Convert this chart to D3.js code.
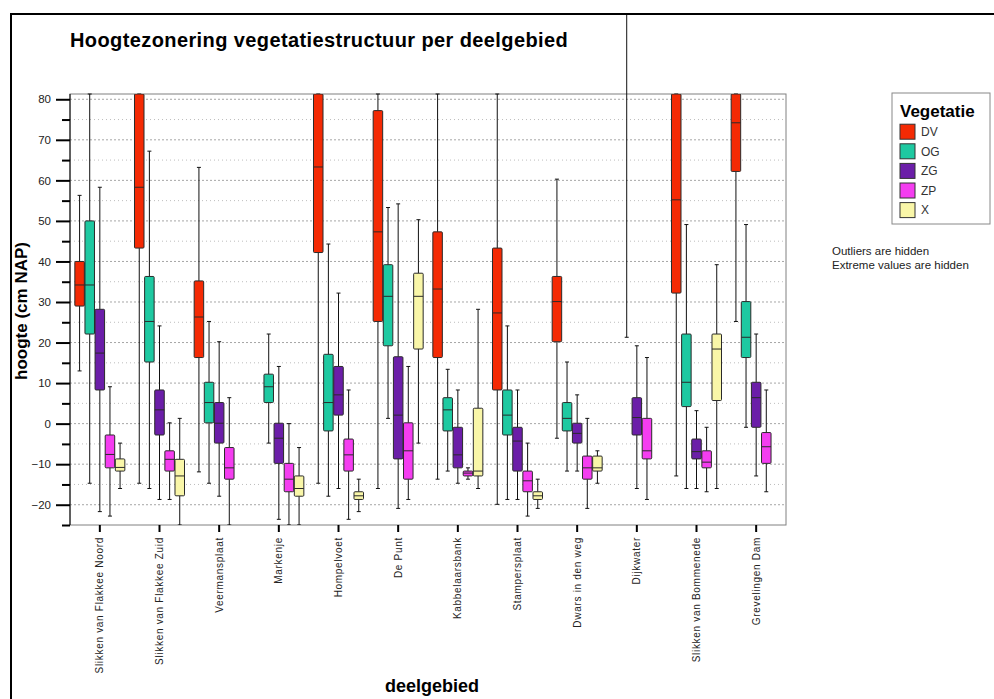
<!DOCTYPE html>
<html>
<head>
<meta charset="utf-8">
<script src="https://cdn.jsdelivr.net/npm/d3@7"></script>
<style>
  body { margin: 0; background: #fff; }
  svg { font-family: "Liberation Sans", Arial, sans-serif; }
  .axis path { display: none; }
  .axis line { stroke: #000; stroke-width: 2; }
  .axis text { fill: #222; }
</style>
</head>
<body>
<svg width="994" height="699"></svg>
<script>
// deelgebieden (x categories)
var areas = ["Slikken van Flakkee Noord", "Slikken van Flakkee Zuid", "Veermansplaat", "Markenje",
  "Hompelvoet", "De Punt", "Kabbelaarsbank", "Stampersplaat", "Dwars in den weg", "Dijkwater",
  "Slikken van Bommenede", "Grevelingen Dam"];

var types = ["DV", "OG", "ZG", "ZP", "X"];

// [min, q1, median, q3, max] per deelgebied, null = no data
var dvStats = [
  [13, 29, 34.2, 40, 56.3], [-14.7, 43.3, 58.3, 81.3, 81.3], [-11.9, 16.3, 26.3, 35.2, 63.2], null,
  [-14.7, 42.2, 63.3, 81.3, 81.3], [-16, 25.2, 47.3, 77.2, 81.3], [-13.7, 16.3, 33.2, 47.3, 81.3],
  [-19.9, 8.3, 27.3, 43.3, 81.3], [-3.6, 20.2, 30.1, 36.3, 60.3], null,
  [-12.9, 32.2, 55.2, 81.3, 81.3], [25.2, 62.2, 74.2, 81.3, 81.3]
];
var ogStats = [
  [-14.7, 22.1, 34.2, 50, 81.3], [-16, 15.2, 25.2, 36.3, 67.2], [-14.7, 0.2, 5.2, 10.2, 25.2],
  [-4.8, 5.2, 9.1, 12.2, 22.1], [-17.9, -1.8, 5.2, 17.1, 44.3], [1.3, 19.2, 31.4, 39.2, 53.3],
  [-11.7, -1.8, 3.4, 6.4, 13.4], [-18.7, -2.8, 2.1, 8.3, 24.1], [-11.7, -1.8, 1.3, 5.2, 15.2],
  [21.3, 101.5, 105, 110, 120], [-16, 4.2, 10.2, 22.1, 49.1], [-0.9, 16.3, 21.3, 30.1, 49.1]
];
var zgStats = [
  [-21.7, 8.3, 17.4, 28.2, 58.3], [-18.7, -2.8, 3.4, 8.3, 24.1], [-17.9, -4.8, 0.1, 5.2, 20.2],
  [-23.6, -9.8, -3.6, 0.1, 14.1], [-16, 2.1, 7.1, 14.1, 32.2], [-20.9, -8.7, 2.1, 16.5, 54.2],
  [-14.7, -10.9, -7.7, -0.9, 8.3], [-18.7, -11.7, -4.3, -0.9, 8.3], [-11.7, -4.8, -2.4, 0.1, 7.1],
  [-16, -2.8, 1.5, 6.4, 19.2], [-16, -8.7, -6.9, -3.8, 3.2], [-12.9, -0.9, 6.4, 10.2, 22.1]
];
var zpStats = [
  [-22.8, -10.9, -7.6, -2.8, 9.1], [-18.7, -11.7, -8.8, -6.7, 0.2], [-25, -13.7, -10.9, -5.9, 6.4],
  [-25, -16.8, -13.7, -9.8, 0], [-23.6, -11.7, -7.7, -3.8, 8.3], [-18.7, -13.7, -6.7, 0.2, 14.1],
  [-13.7, -12.9, -12.2, -11.7, -10.9], [-22.8, -16.8, -14.1, -11.7, -4.8], [-20.9, -13.7, -10.9, -8, 1.3],
  [-18.7, -8.7, -6.7, 1.3, 16.3], [-16.8, -10.9, -9.5, -6.7, -0.9], [-16.8, -9.8, -5.7, -2.2, 8.3]
];
var xStats = [
  [-16, -11.7, -10.8, -8.7, -4.8], [-25, -17.8, -12.9, -8.8, 1.3], null,
  [-25, -17.9, -16, -12.9, -5.9], [-21.7, -18.7, -17.8, -16.8, -13.7], [-4.8, 18.4, 31.4, 37.1, 50.3],
  [-16, -12.9, -11.7, 3.8, 28.2], [-20.9, -18.7, -17.8, -16.8, -13.7], [-14.7, -11.7, -10.9, -8, -6.7],
  null, [-16, 5.7, 18.4, 22.1, 39.2], null
];

var yMajor = [-20, -10, 0, 10, 20, 30, 40, 50, 60, 70, 80];
var yMinor = [-25, -15, -5, 5, 15, 25, 35, 45, 55, 65, 75];

var colors = ["#f42a04", "#1ec9a1", "#6b1ea8", "#f43df0", "#f9f6a8"];

var svg = d3.select("svg"),
    margin = {top: 94, right: 208, bottom: 174, left: 70},
    width = 994 - margin.left - margin.right,
    height = 699 - margin.top - margin.bottom,
    g = svg.append("g").attr("transform", "translate(" + margin.left + "," + margin.top + ")");

var allStats = [dvStats, ogStats, zgStats, zpStats, xStats];
var boxes = [];
areas.forEach(function(a, i) {
  types.forEach(function(t, j) {
    var s = allStats[j][i];
    if (s) boxes.push({area: a, type: t, min: s[0], q1: s[1], med: s[2], q3: s[3], max: s[4]});
  });
});

var x0 = d3.scaleBand().domain(areas).range([0, width]).paddingInner(0.162).paddingOuter(0.081),
    x1 = d3.scaleBand().domain(types).range([0, x0.bandwidth()]).paddingInner(0.06),
    y = d3.scaleLinear().domain([-25, 81.3]).range([height, 0]),
    z = d3.scaleOrdinal().domain(types).range(colors);

// outer frame
svg.append("path")
    .attr("d", "M11,699V14H994")
    .attr("fill", "none")
    .attr("stroke", "#000")
    .attr("stroke-width", 2);

svg.append("text")
    .attr("x", 70).attr("y", 47)
    .style("font-size", "20px").style("font-weight", "bold").style("letter-spacing", "0.4px")
    .text("Hoogtezonering vegetatiestructuur per deelgebied");

// grid
g.selectAll(".gmin").data(yMinor.filter(function(v) { return v > -25; })).enter().append("line")
    .attr("x1", 0).attr("x2", width)
    .attr("y1", function(d) { return y(d); }).attr("y2", function(d) { return y(d); })
    .attr("stroke", "#bdbdbd").attr("stroke-dasharray", "1,3");
g.selectAll(".gmaj").data(yMajor).enter().append("line")
    .attr("x1", 0).attr("x2", width)
    .attr("y1", function(d) { return y(d); }).attr("y2", function(d) { return y(d); })
    .attr("stroke", "#a6a6a6").attr("stroke-dasharray", "2,2");

g.append("rect")
    .attr("width", width).attr("height", height)
    .attr("fill", "none").attr("stroke", "#808080");

svg.append("clipPath").attr("id", "plotclip").append("rect")
    .attr("width", width).attr("height", height);
svg.append("clipPath").attr("id", "whiskclip").append("rect")
    .attr("y", 14 - margin.top).attr("width", width).attr("height", height + margin.top - 14);

var bx = function(d) { return x0(d.area) + x1(d.type); },
    cx = function(d) { return bx(d) + x1.bandwidth() / 2; };

var wg = g.append("g").attr("clip-path", "url(#whiskclip)");
wg.selectAll(".whisk").data(boxes).enter().append("path")
    .attr("d", function(d) {
      var c = cx(d);
      return "M" + c + "," + y(d.min) + "V" + y(d.q1) + "M" + c + "," + y(d.q3) + "V" + y(d.max) +
        "M" + (c - 2) + "," + y(d.min) + "H" + (c + 2) + "M" + (c - 2) + "," + y(d.max) + "H" + (c + 2);
    })
    .attr("stroke", "#111").attr("fill", "none");

var bg = g.append("g").attr("clip-path", "url(#plotclip)");
bg.selectAll(".box").data(boxes).enter().append("rect")
    .attr("x", bx)
    .attr("y", function(d) { return y(d.q3); })
    .attr("width", x1.bandwidth())
    .attr("height", function(d) { return y(d.q1) - y(d.q3); })
    .attr("rx", 1)
    .attr("fill", function(d) { return z(d.type); })
    .attr("stroke", "#2a2a2a");
bg.selectAll(".med").data(boxes).enter().append("line")
    .attr("x1", bx)
    .attr("x2", function(d) { return bx(d) + x1.bandwidth(); })
    .attr("y1", function(d) { return y(d.med); })
    .attr("y2", function(d) { return y(d.med); })
    .attr("stroke", "#2a2a2a");

// axes
g.append("g")
    .attr("class", "axis")
    .call(d3.axisLeft(y).tickValues(yMajor).tickSize(14).tickPadding(5))
    .selectAll("text").style("font-size", "11.5px");
g.append("g")
    .attr("class", "axis")
    .call(d3.axisLeft(y).tickValues(yMinor).tickSize(8).tickFormat(""));
g.append("line").attr("x1", 0).attr("x2", 0).attr("y1", 0).attr("y2", height).attr("stroke", "#000");

g.append("g")
    .attr("class", "axis")
    .attr("transform", "translate(0," + height + ")")
    .call(d3.axisBottom(x0).tickSize(7))
  .selectAll("text")
    .attr("transform", "rotate(-90)")
    .attr("x", -12).attr("y", 0).attr("dy", "0.35em")
    .style("text-anchor", "end")
    .style("font-size", "10px").style("letter-spacing", "0.7px");

svg.append("text")
    .attr("transform", "translate(27," + 311 + ")rotate(-90)")
    .style("text-anchor", "middle").style("font-size", "17px").style("font-weight", "bold")
    .text("hoogte (cm NAP)");

svg.append("text")
    .attr("x", 432).attr("y", 692)
    .style("text-anchor", "middle").style("font-size", "18px").style("font-weight", "bold")
    .text("deelgebied");

// legend
var lg = svg.append("g").attr("transform", "translate(892,93)");
lg.append("rect").attr("width", 98).attr("height", 131).attr("fill", "#fff").attr("stroke", "#888");
lg.append("text").attr("x", 8).attr("y", 24)
    .style("font-size", "17px").style("font-weight", "bold").text("Vegetatie");
var li = lg.selectAll(".li").data(types).enter().append("g")
    .attr("transform", function(d, i) { return "translate(8," + (38.7 + i * 19.6) + ")"; });
li.append("rect").attr("x", 0).attr("y", -7.5).attr("width", 15).attr("height", 15)
    .attr("fill", function(d) { return z(d); }).attr("stroke", "#333");
li.append("text").attr("x", 21).attr("dy", "0.35em")
    .style("font-size", "12px").style("fill", "#333").text(function(d) { return d; });

svg.append("text").attr("x", 832).attr("y", 255).style("font-size", "11.5px").style("fill", "#222")
    .text("Outliers are hidden");
svg.append("text").attr("x", 832).attr("y", 269).style("font-size", "11.5px").style("fill", "#222")
    .text("Extreme values are hidden");
</script>
</body>
</html>
